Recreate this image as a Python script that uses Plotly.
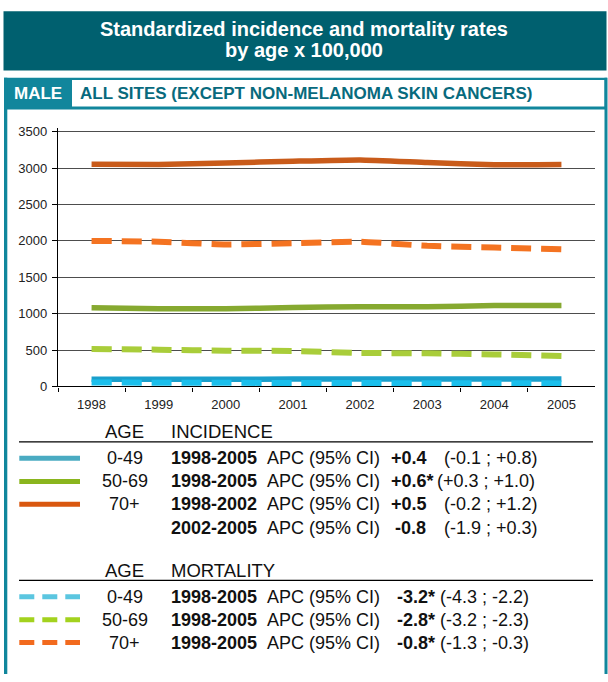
import plotly.graph_objects as go

W, H = 608, 682

YEARS = ["1998", "1999", "2000", "2001", "2002", "2003", "2004", "2005"]

INC_0_49 = [98, 99, 100, 101, 101, 102, 102, 103]
INC_50_69 = [1081, 1068, 1068, 1085, 1095, 1095, 1112, 1112]
INC_70 = [3055, 3050, 3072, 3095, 3113, 3077, 3046, 3050]

MORT_0_49 = [54, 52, 50, 48, 46, 45, 43, 42]
MORT_50_69 = [514, 505, 492, 487, 460, 456, 440, 420]
MORT_70 = [2000, 1990, 1950, 1968, 1990, 1932, 1910, 1886]

Y_TICKS = [0, 500, 1000, 1500, 2000, 2500, 3000, 3500]

INC_ROWS = [
    ("0-49", "1998-2005", "+0.4", "(-0.1 ; +0.8)"),
    ("50-69", "1998-2005", "+0.6*", "(+0.3 ; +1.0)"),
    ("70+", "1998-2002", "+0.5", "(-0.2 ; +1.2)"),
    ("", "2002-2005", "-0.8", "(-1.9 ; +0.3)"),
]
MORT_ROWS = [
    ("0-49", "1998-2005", "-3.2*", "(-4.3 ; -2.2)"),
    ("50-69", "1998-2005", "-2.8*", "(-3.2 ; -2.3)"),
    ("70+", "1998-2005", "-0.8*", "(-1.3 ; -0.3)"),
]

HEADER = "#00606F"
TEAL = "#11869C"
TEAL_TEXT = "#086A7D"
FONT = "Liberation Sans"


def px(x):
    return x / W


def py(y):
    return 1 - y / H


fig = go.Figure()

# ── chart lines ─────────────────────────────────────────────────────
series = [
    (INC_0_49, "#1A9FCB", "solid", 5.5),
    (MORT_0_49, "#1BBFEC", "20px,10px", 6),
    (INC_50_69, "#86A930", "solid", 5.5),
    (MORT_50_69, "#A9CD3A", "20px,10px", 6),
    (INC_70, "#C95B1A", "solid", 5.5),
    (MORT_70, "#F47321", "20px,10px", 6),
]
for vals, color, dash, width in series:
    fig.add_trace(go.Scatter(
        x=YEARS, y=vals, mode="lines",
        line=dict(color=color, width=width, dash=dash, shape="spline", smoothing=0.4),
        hoverinfo="skip",
    ))

shapes = []
ann = []


def box(x0, x1, y0, y1, color):
    shapes.append(dict(type="rect", xref="paper", yref="paper", x0=px(x0), x1=px(x1),
                       y0=py(y1), y1=py(y0), fillcolor=color, line_width=0, layer="below"))


# ── header boxes ────────────────────────────────────────────────────
box(3.5, 606.5, 7.3, 67.7, HEADER)
box(4, 607, 75, 107.3, TEAL)
box(72, 604.5, 77.3, 104.3, "white")
box(4, 7.3, 75, H, TEAL)
box(604.5, 607.5, 75, H, TEAL)

ann.append(dict(text="<b>Standardized incidence and mortality rates</b>", x=px(304), y=py(25.5),
                font=dict(size=20, color="white")))
ann.append(dict(text="<b>by age x 100,000</b>", x=px(304), y=py(46.5),
                font=dict(size=20, color="white")))
ann.append(dict(text="<b>MALE</b>", x=px(37.5), y=py(91), font=dict(size=17, color="white")))
ann.append(dict(text="<b>ALL SITES (EXCEPT NON-MELANOMA SKIN CANCERS)</b>", x=px(80), y=py(91),
                xanchor="left", font=dict(size=17, color=TEAL_TEXT)))


# ── legend table ────────────────────────────────────────────────────
def table(title, header_y, sep_y, row_ys, rows, swatches, dashed, val_x, ci_x):
    ann.append(dict(text="AGE", x=px(125), y=py(header_y), font=dict(size=18.5)))
    ann.append(dict(text=title, x=px(170.7), y=py(header_y), xanchor="left", font=dict(size=18.5)))
    shapes.append(dict(type="line", xref="paper", yref="paper", x0=px(19), x1=px(593),
                       y0=py(sep_y), y1=py(sep_y), line=dict(color="black", width=1.3)))
    for i, (age, period, val, ci) in enumerate(rows):
        yy = row_ys[i]
        if i < len(swatches):
            shapes.append(dict(type="line", xref="paper", yref="paper", x0=px(19.3), x1=px(80),
                               y0=py(yy), y1=py(yy),
                               line=dict(color=swatches[i], width=5,
                                         dash="15px,8px" if dashed else "solid")))
        if age:
            ann.append(dict(text=age, x=px(125), y=py(yy), font=dict(size=18)))
        ann.append(dict(text=f"<b>{period}</b>", x=px(170.7), y=py(yy), xanchor="left", font=dict(size=18)))
        ann.append(dict(text="APC (95% CI)", x=px(267), y=py(yy), xanchor="left", font=dict(size=18)))
        vx = val_x[i] if isinstance(val_x, list) else val_x
        cx = ci_x[i] if isinstance(ci_x, list) else ci_x
        ann.append(dict(text=f"<b>{val}</b>", x=px(vx), y=py(yy), xanchor="left", font=dict(size=18)))
        ann.append(dict(text=ci, x=px(cx), y=py(yy), xanchor="left", font=dict(size=18)))


table("INCIDENCE", 435.5, 445.7, [462.3, 486, 509.3, 533.3], INC_ROWS,
      ["#4AABC2", "#8AB51E", "#D9570F"], False,
      [390.7, 390.7, 390.7, 395], [444, 437.3, 444, 444])
table("MORTALITY", 576.3, 586.7, [603.3, 626.7, 650], MORT_ROWS,
      ["#5BC6E0", "#A3D21E", "#F26A1E"], True, 396.7, 440)

for a in ann:
    a.setdefault("xanchor", "center")
    a.update(xref="paper", yref="paper", yanchor="middle", showarrow=False,
             borderpad=0, borderwidth=0)
    a["font"].setdefault("color", "#111111")
    a["font"]["family"] = FONT

fig.update_layout(
    width=W, height=H,
    margin=dict(l=0, r=0, t=0, b=0),
    paper_bgcolor="white", plot_bgcolor="white",
    showlegend=False,
    font=dict(family=FONT, color="#222222"),
    xaxis=dict(
        type="category", domain=[px(58), px(595)], range=[-0.5, 7.5],
        tickson="boundaries", ticks="outside", ticklen=4, tickcolor="black", tickwidth=1.2,
        showline=True, linecolor="black", linewidth=1.3, showgrid=False,
        tickfont=dict(size=13, family=FONT, color="#222222"),
        ticklabelstandoff=6, fixedrange=True,
    ),
    yaxis=dict(
        domain=[1 - 389.3 / H, 1 - 126.7 / H], range=[0, 3545],
        tickvals=Y_TICKS, ticks="outside", ticklen=5, tickcolor="black", tickwidth=1.2,
        showline=True, linecolor="black", linewidth=1.3,
        showgrid=True, gridcolor="#4d4d4d", gridwidth=1.3, zeroline=False,
        tickfont=dict(size=13, family=FONT, color="#222222"),
        ticklabelstandoff=2, fixedrange=True,
    ),
    shapes=shapes,
    annotations=ann,
)

fig.write_html(
    "out.html",
    config={"displayModeBar": False},
    post_script=(
        "var s=document.documentElement.style, b=document.body.style;"
        "s.margin=b.margin='0'; s.padding=b.padding='0';"
        "s.overflow=b.overflow='hidden'; s.height=b.height='682px';"
    ),
)
